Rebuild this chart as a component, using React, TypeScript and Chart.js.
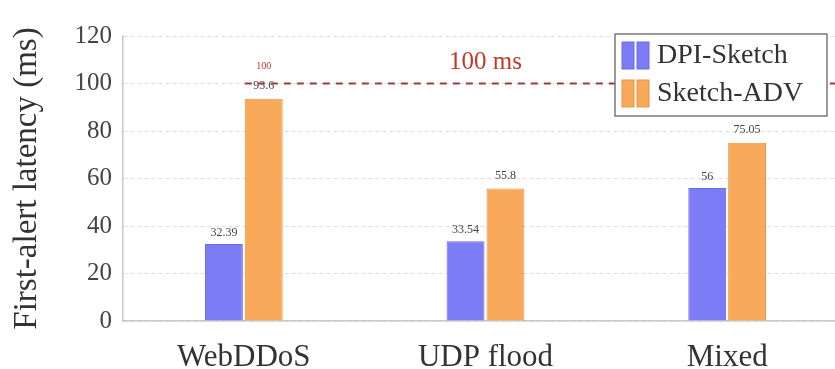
import React, { useEffect, useRef } from "react";
import { Chart, registerables } from "chart.js";

Chart.register(...registerables);

const categories = ["WebDDoS", "UDP flood", "Mixed"];
const dpiSketch = [32.39, 33.54, 56];
const sketchAdv = [93.6, 55.8, 75.05];
const dpiLabels = ["32.39", "33.54", "56"];
const advLabels = ["93.6", "55.8", "75.05"];
const thresholdValue = 100;
const thresholdText = "100 ms";
const capText = "100";
const seriesNames = ["DPI-Sketch", "Sketch-ADV"];
const yTicks = [0, 20, 40, 60, 80, 100, 120];

const SERIF = "'Liberation Serif', 'DejaVu Serif', serif";
const BLUE = "#7c7cf6";
const BLUE_EDGE = "#6a6ae0";
const ORANGE = "#f8a95a";
const ORANGE_EDGE = "#e59447";
const RED = "#c0392b";

const overlayPlugin = {
  id: "overlay",
  afterDatasetsDraw(chart: any) {
    const { ctx, scales } = chart;
    const x = scales.x;
    const y = scales.y;
    ctx.save();

    // value labels above each bar
    ctx.font = `12px ${SERIF}`;
    ctx.textAlign = "center";
    ctx.textBaseline = "middle";
    ctx.fillStyle = "#444";
    const m0 = chart.getDatasetMeta(0);
    const m1 = chart.getDatasetMeta(1);
    m0.data.forEach((bar: any, i: number) => {
      ctx.fillText(dpiLabels[i], bar.x, bar.y - 11);
    });
    m1.data.forEach((bar: any, i: number) => {
      ctx.fillText(advLabels[i], bar.x, bar.y - 13);
    });

    // threshold line
    const ty = y.getPixelForValue(thresholdValue);
    const startX = m1.data[0].x - m1.data[0].width / 2;
    ctx.strokeStyle = "#a03a3c";
    ctx.lineWidth = 2;
    ctx.setLineDash([7, 6]);
    ctx.beginPath();
    ctx.moveTo(startX, ty);
    ctx.lineTo(chart.width, ty);
    ctx.stroke();
    ctx.setLineDash([]);

    ctx.fillStyle = RED;
    ctx.font = `10px ${SERIF}`;
    ctx.fillText(capText, m1.data[0].x, ty - 17);

    ctx.font = `25px ${SERIF}`;
    ctx.fillText(thresholdText, x.getPixelForValue(1), ty - 21);

    // legend
    const lx = 615, ly = 34, lw = 212, lh = 82;
    ctx.fillStyle = "#ffffff";
    ctx.fillRect(lx, ly, lw, lh);
    ctx.strokeStyle = "#7a7a7a";
    ctx.lineWidth = 1.5;
    ctx.strokeRect(lx, ly, lw, lh);
    const entries = [
      { name: seriesNames[0], fill: BLUE, edge: BLUE_EDGE, cy: 55 },
      { name: seriesNames[1], fill: ORANGE, edge: ORANGE_EDGE, cy: 93 },
    ];
    entries.forEach((e) => {
      for (let k = 0; k < 2; k++) {
        const sx = 622 + k * 15;
        ctx.fillStyle = e.fill;
        ctx.fillRect(sx, e.cy - 13, 12, 27);
        ctx.strokeStyle = e.edge;
        ctx.lineWidth = 1;
        ctx.strokeRect(sx, e.cy - 13, 12, 27);
      }
      ctx.fillStyle = "#333";
      ctx.font = `28px ${SERIF}`;
      ctx.textAlign = "left";
      ctx.fillText(e.name, 657, e.cy + 1);
    });

    ctx.restore();
  },
};

export default function App() {
  const ref = useRef<HTMLCanvasElement | null>(null);

  useEffect(() => {
    document.body.style.margin = "0";
    document.body.style.overflow = "hidden";
    const canvas = ref.current;
    if (!canvas) return;
    const chart = new Chart(canvas, {
      type: "bar",
      data: {
        labels: categories,
        datasets: [
          {
            label: seriesNames[0],
            data: dpiSketch,
            backgroundColor: BLUE,
            borderColor: BLUE_EDGE,
            borderWidth: 1,
            categoryPercentage: 0.33,
            barPercentage: 0.95,
          },
          {
            label: seriesNames[1],
            data: sketchAdv,
            backgroundColor: ORANGE,
            borderColor: ORANGE_EDGE,
            borderWidth: 1,
            categoryPercentage: 0.33,
            barPercentage: 0.95,
          },
        ],
      },
      options: {
        animation: false,
        responsive: false,
        maintainAspectRatio: false,
        layout: { padding: { left: 0, right: 12, top: 36, bottom: 0 } },
        plugins: {
          legend: { display: false },
          tooltip: { enabled: false },
        },
        scales: {
          x: {
            grid: { display: false, drawTicks: false },
            border: { display: true, color: "#c8c8c8", width: 1.5 },
            ticks: {
              color: "#333",
              font: { family: SERIF, size: 31 },
              padding: 18,
            },
            afterFit(scale: any) {
              scale.height = 48;
            },
          },
          y: {
            min: 0,
            max: 120,
            afterBuildTicks(scale: any) {
              scale.ticks = yTicks.map((v) => ({ value: v }));
            },
            grid: {
              color: "#dcdcdc",
              lineWidth: 1,
              drawTicks: false,
            },
            border: { display: true, color: "#c8c8c8", width: 1.5, dash: [4, 3] },
            ticks: {
              color: "#444",
              font: { family: SERIF, size: 25 },
              padding: 11,
            },
            title: {
              display: true,
              text: "First-alert latency (ms)",
              color: "#333",
              font: { family: SERIF, size: 33 },
              padding: { top: 8, bottom: 6 },
            },
            afterFit(scale: any) {
              scale.width = 123;
            },
          },
        },
      },
      plugins: [overlayPlugin],
    } as any);
    return () => chart.destroy();
  }, []);

  return (
    <div style={{ width: 835, height: 369, overflow: "hidden" }}>
      <canvas ref={ref} width={860} height={369} style={{ display: "block" }} />
    </div>
  );
}
